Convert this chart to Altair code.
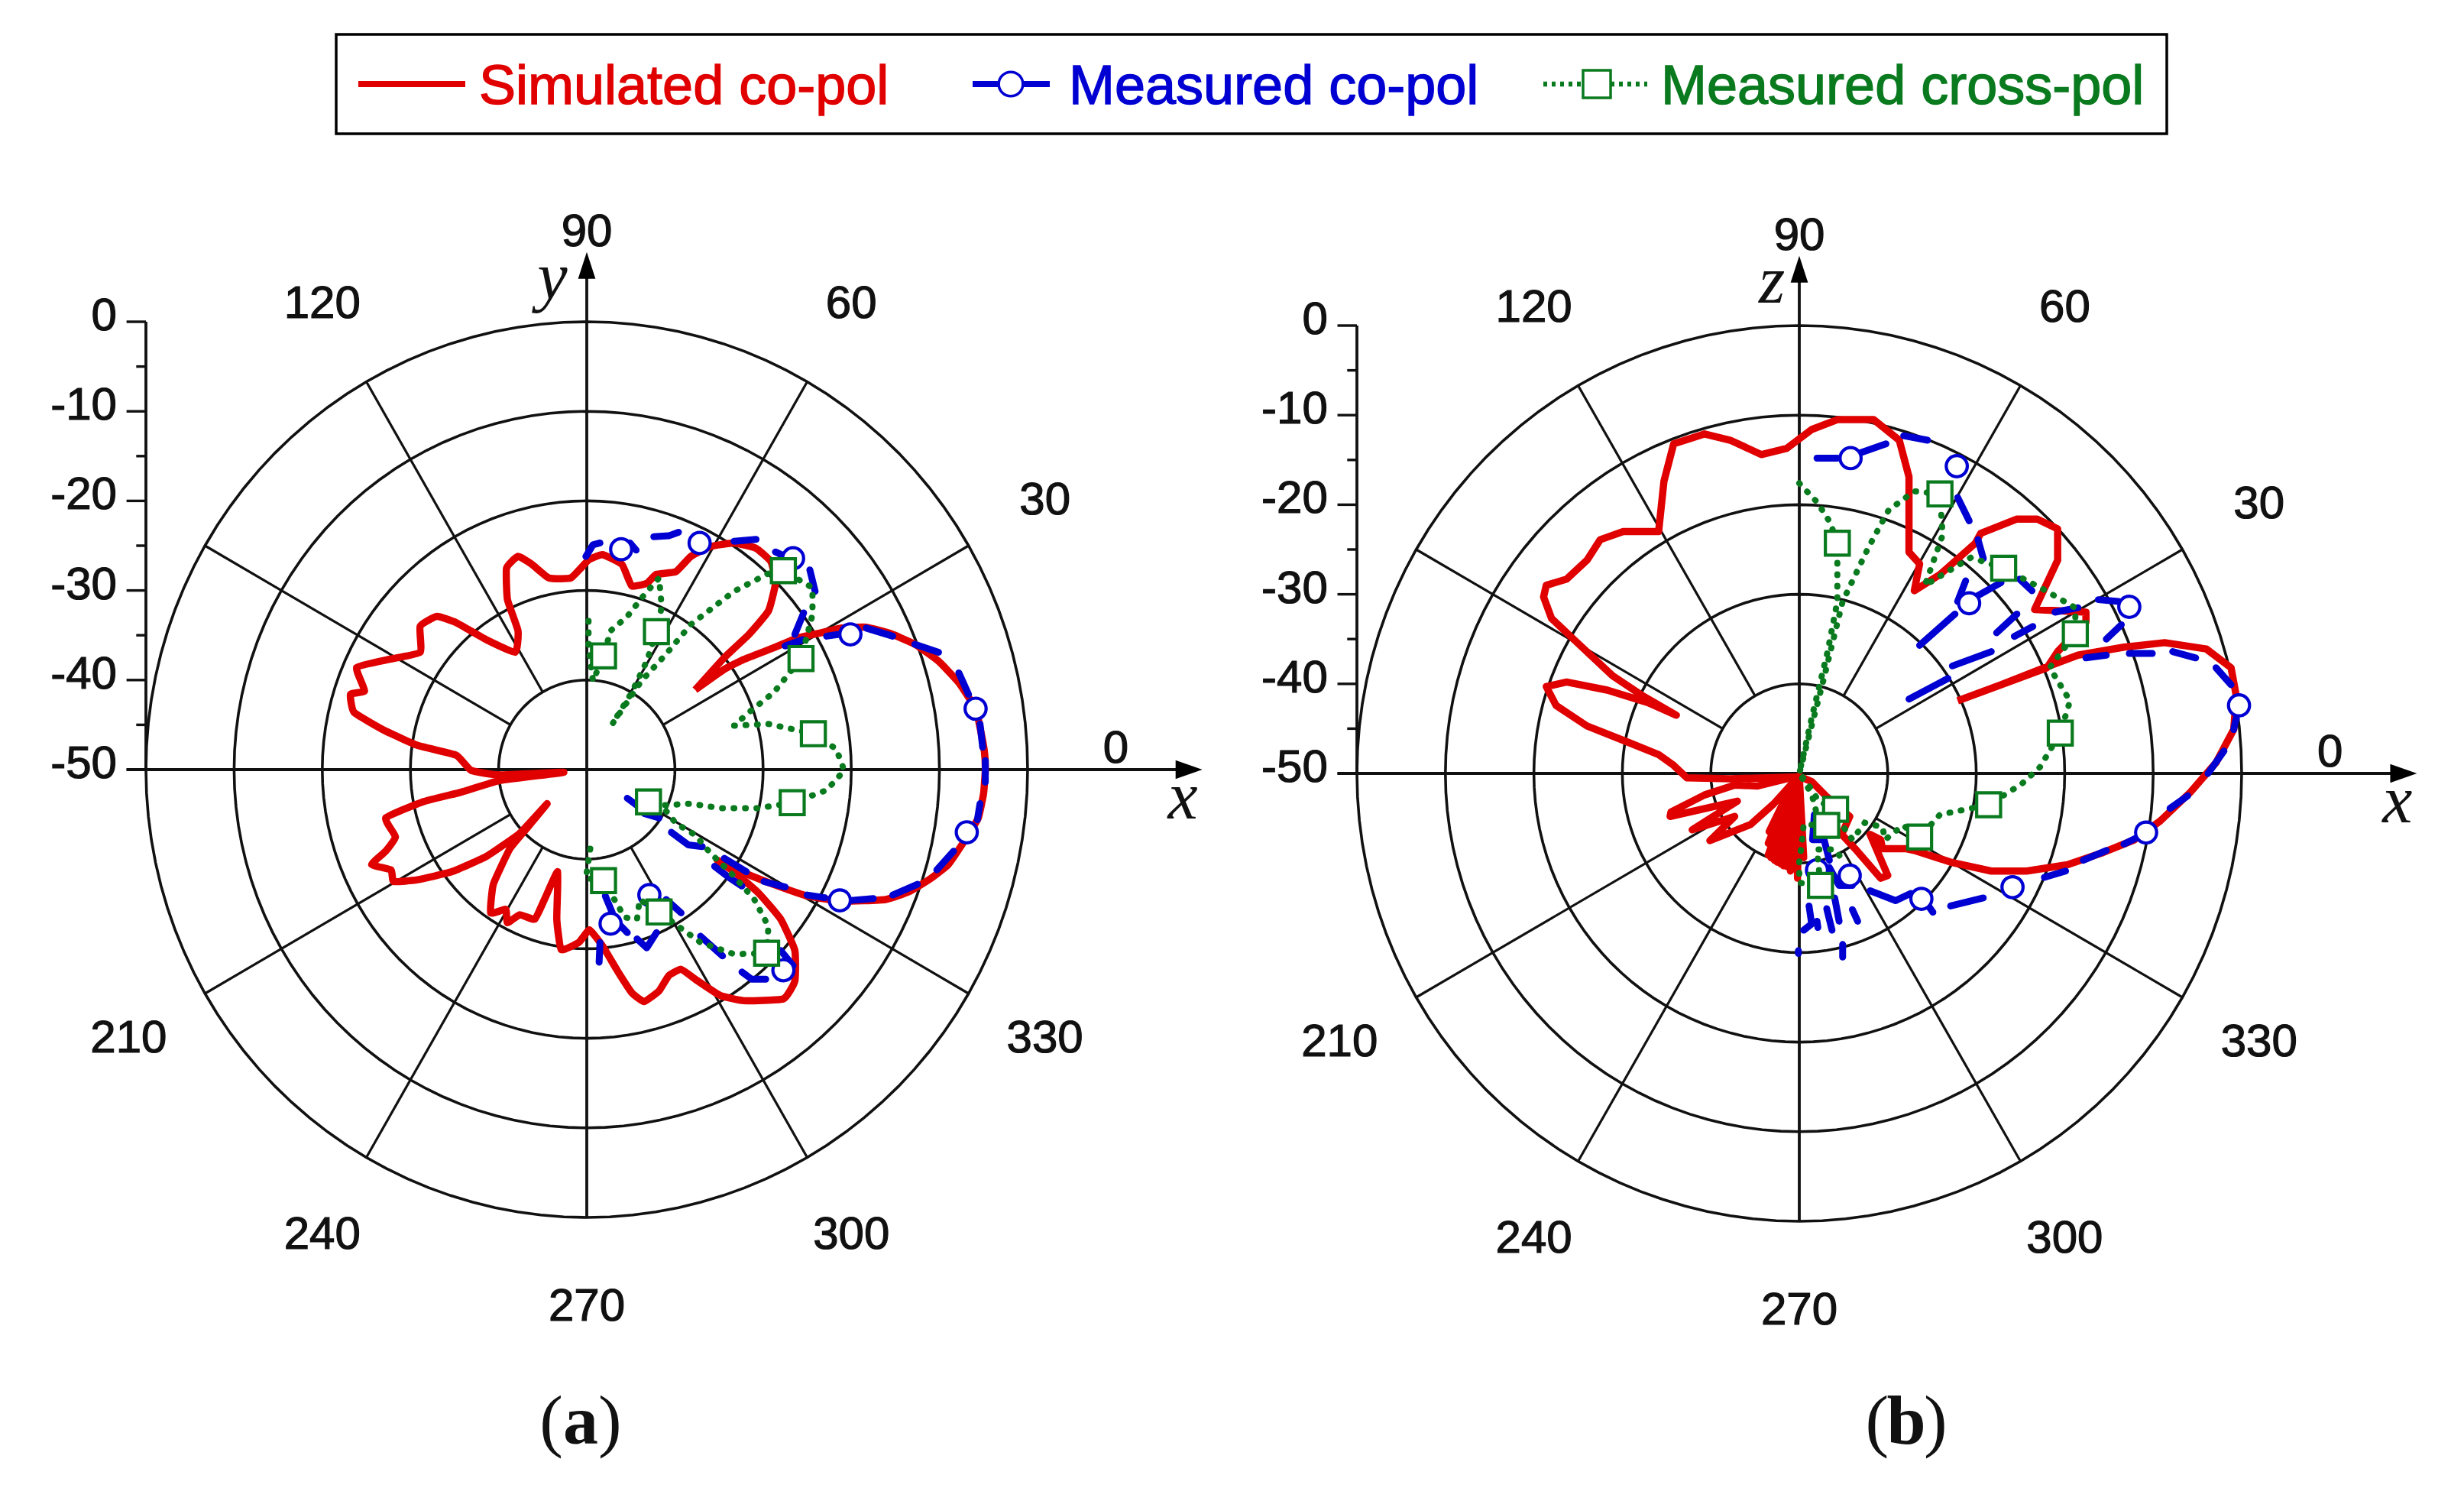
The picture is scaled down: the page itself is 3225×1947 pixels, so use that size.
import math
import altair as alt
import pandas as pd

# Radiation patterns. Each pair is (level + 50 dB) projected on the x and y axes.
SIM_A = [(12.3,8.9),(15.6,11.2),(17.8,12.3),(21.2,13.6),(23.9,14.7),(26.7,15.3),(28.9,15.8),(31.7,15.9),(34.4,15.2),(37.2,14.0),(39.9,12.1),(42.2,9.7),(44.1,6.8),(44.6,4.7),(45.1,2.0),(45.2,-0.1),(45.0,-2.7),(44.4,-5.4),(43.0,-7.7),(41.0,-10.6),(38.8,-12.3),(36.6,-13.6),(33.9,-14.5),(28.9,-14.7),(25.0,-14.1),(21.7,-13.0),(17.8,-11.5),(14.8,-10.1),(16.7,-11.4),(19.5,-13.8),(22.0,-16.7),(23.6,-20.2),(23.6,-23.6),(22.3,-25.6),(17.8,-25.8),(15.1,-25.2),(12.3,-23.4),(10.7,-22.3),(9.3,-23.0),(8.2,-24.7),(6.5,-25.9),(5.1,-24.9),(3.5,-22.5),(1.8,-19.7),(0.3,-17.9),(-0.9,-19.3),(-2.9,-20.1),(-3.4,-16.7),(-3.3,-11.4),(-4.8,-14.5),(-5.9,-16.7),(-7.6,-16.2),(-9.0,-17.1),(-9.2,-15.6),(-10.9,-16.0),(-10.6,-12.8),(-8.7,-8.8),(-6.5,-6.2),(-4.5,-3.8),(-7.6,-7.1),(-11.4,-9.7),(-15.3,-11.4),(-19.2,-12.3),(-21.9,-12.5),(-22.2,-11.2),(-24.4,-10.6),(-22.8,-9.1),(-21.7,-7.5),(-22.8,-5.4),(-18.6,-3.6),(-14.2,-2.5),(-9.8,-1.2),(-2.6,-0.3),(-9.8,-0.6),(-13.1,-0.1),(-14.8,1.6),(-19.2,2.7),(-23.0,4.4),(-26.4,6.4),(-26.8,8.4),(-25.2,8.8),(-26.1,11.4),(-22.5,12.3),(-18.9,13.1),(-18.9,16.0),(-17.0,17.1),(-14.8,16.4),(-11.4,14.5),(-8.1,13.1),(-7.8,15.5),(-9.0,19.0),(-9.1,22.5),(-7.8,23.8),(-6.2,22.9),(-4.3,21.4),(-1.8,21.4),(0.2,23.4),(1.8,24.0),(4.0,22.9),(5.1,20.5),(6.8,20.8),(7.9,21.8),(10.1,22.1),(11.8,23.8),(14.0,24.9),(16.7,25.3),(19.2,24.7),(20.9,23.2),(21.4,20.8),(20.6,17.7),(18.4,15.1),(15.6,12.5),(12.3,8.9)]

MEAS_A = [
[(-0.1,23.8),(0.7,25.1),(1.5,25.3)],[(4.9,25.3),(5.6,24.5)],[(7.6,26.0),(9.3,26.1),(10.4,26.5)],[(16.7,25.5),(19.2,25.7)],[(21.4,24.3),(22.5,23.8)],[(25.3,22.3),(25.9,19.9)],[(24.6,17.5),(23.6,15.1)],[(22.5,13.8),(24.5,14.5)],[(27.2,14.9),(28.6,15.1)],[(31.7,15.8),(34.7,14.9)],[(37.2,14.0),(39.9,13.1)],[(42.2,10.8),(43.3,8.4)],[(44.6,5.1),(44.9,2.5)],[(45.2,1.0),(45.2,-1.4)],[(44.6,-3.8),(44.3,-5.6)],[(41.6,-9.1),(39.7,-11.2)],[(37.5,-12.8),(34.7,-14.0)],[(32.5,-14.4),(30.0,-14.6)],[(27.0,-14.3),(25.0,-14.0)],[(22.5,-13.1),(20.1,-12.5)],[(17.6,-13.0),(16.2,-12.1),(14.5,-10.8)],[(15.6,-9.9),(18.1,-11.4)],[(13.1,-8.6),(11.5,-8.4),(9.6,-7.0)],[(4.6,-3.2),(5.7,-4.0)],[(6.5,-4.9),(8.2,-5.4)],[(9.0,-14.5),(10.7,-16.0)],[(2.1,-14.1),(2.9,-16.0)],[(3.5,-17.1),(4.6,-18.2)],[(5.7,-18.9),(6.8,-19.9),(7.9,-18.2)],[(1.5,-19.3),(1.4,-21.5)],[(12.9,-18.6),(15.4,-20.8)],[(17.6,-22.6),(18.7,-23.4),(20.3,-23.4)],[(22.0,-20.2),(23.4,-21.9)]]
MEAS_A_MARKS = [(3.9,24.6),(12.8,25.3),(23.4,23.6),(29.9,15.1),(44.1,6.8),(43.1,-7.0),(28.7,-14.6),(22.3,-22.4),(7.1,-14.0),(2.7,-17.2)]

CROSS_A = [(0.2,16.6),(0.2,13.8),(0.7,9.9),(1.9,12.7),(2.7,15.5),(4.6,17.1),(6.5,19.5),(8.2,21.4),(8.5,18.2),(7.9,15.4),(6.8,12.1),(5.1,8.6),(2.9,5.1),(6.2,9.9),(9.0,12.9),(11.8,16.2),(16.7,19.9),(20.6,21.9),(22.3,22.2),(25.6,20.3),(25.6,17.3),(24.3,12.4),(21.2,8.6),(18.4,6.4),(16.7,4.9),(20.6,5.1),(25.7,4.0),(28.3,2.3),(29.2,-0.1),(27.2,-2.3),(23.3,-3.7),(19.5,-4.3),(15.1,-4.3),(11.8,-3.8),(8.5,-4.0),(10.1,-6.0),(12.3,-7.3),(14.0,-9.3),(16.7,-11.9),(19.0,-14.5),(20.6,-17.5),(20.4,-20.5),(16.7,-20.6),(12.9,-19.3),(10.1,-17.3),(8.2,-15.9),(6.0,-14.5),(5.7,-16.7),(4.3,-16.5),(1.9,-12.4),(-0.1,-12.1),(0.4,-8.8)]
CROSS_A_MARKS = [(1.9,12.7),(7.9,15.4),(22.3,22.2),(24.3,12.4),(25.7,4.0),(23.3,-3.7),(7.0,-3.6),(1.9,-12.4),(8.2,-15.9),(20.4,-20.5)]

SIM_B = [(17.9,8.1),(22.8,9.9),(27.7,11.8),(31.5,13.2),(36.7,14.1),(41.3,14.6),(46.0,13.9),(48.8,11.8),(49.4,8.6),(49.1,4.9),(47.1,1.2),(44.2,-2.1),(40.8,-5.3),(37.9,-7.4),(34.4,-8.8),(30.3,-10.2),(25.7,-10.9),(21.7,-10.9),(17.1,-9.9),(13.0,-8.6),(12.0,-8.4),(9.4,-8.4),(9.2,-7.4),(8.0,-6.8),(10.0,-11.4),(9.2,-11.7),(6.3,-8.4),(4.8,-6.8),(5.7,-4.8),(3.1,-2.6),(1.4,-0.9),(-0.1,-0.3),(0.2,-5.7),(0.5,-9.4),(0.0,-0.4),(-0.2,-11.7),(-0.2,-0.4),(-0.6,-10.5),(-0.2,-0.4),(-1.0,-10.9),(-0.2,-0.4),(-1.4,-10.4),(-0.2,-0.4),(-1.8,-10.3),(-0.2,-0.4),(-2.1,-10.1),(-0.3,-0.4),(-2.5,-9.9),(-0.3,-0.4),(-2.8,-9.7),(-0.3,-0.4),(-3.2,-9.4),(-0.4,-0.5),(-3.5,-9.1),(-0.4,-0.5),(-3.5,-7.8),(-0.5,-0.6),(-3.4,-6.5),(-0.6,-0.9),(-2.9,-3.4),(-5.5,-5.7),(-10.1,-7.5),(-7.3,-4.8),(-12.1,-6.3),(-7.0,-3.1),(-14.6,-4.8),(-14.5,-4.3),(-10.7,-2.4),(-7.3,-1.3),(-4.7,-1.4),(-0.6,-0.4),(-7.8,-0.6),(-12.7,-0.5),(-14.2,0.9),(-15.9,2.1),(-19.4,3.5),(-24.0,5.3),(-27.5,7.6),(-28.6,9.7),(-26.3,10.2),(-21.7,9.3),(-17.1,7.9),(-13.9,6.5),(-17.6,8.6),(-21.1,10.9),(-25.1,14.6),(-28.0,17.3),(-28.9,19.7),(-28.6,21.0),(-26.3,21.7),(-24.0,23.8),(-22.5,26.1),(-19.9,27.0),(-15.9,27.0),(-15.3,32.6),(-14.2,36.8),(-10.7,37.9),(-7.8,37.2),(-4.3,35.6),(-1.4,36.3),(1.4,38.4),(4.3,39.5),(8.4,39.5),(11.3,37.2),(12.4,33.1),(12.4,24.7),(13.6,23.4),(13.0,20.4),(15.9,22.2),(19.9,25.7),(20.5,26.8),(24.6,28.4),(26.9,28.4),(29.2,27.3),(29.2,23.8),(26.6,18.3),(32.4,18.0),(32.4,16.9),(29.2,13.6),(28.0,11.8),(17.9,8.1)]

MEAS_B = [
[(2.0,35.2),(4.3,35.2)],[(6.9,35.8),(9.8,36.8)],[(11.8,37.7),(14.5,37.2)],[(17.9,30.8),(19.2,28.2)],[(20.2,26.1),(20.8,24.0)],[(18.8,21.5),(17.9,19.2)],[(22.8,21.3),(19.9,19.7)],[(24.9,21.7),(26.3,20.4)],[(28.9,18.0),(31.5,18.5)],[(33.8,19.4),(36.1,19.2)],[(36.4,16.6),(34.7,15.0)],[(24.6,17.8),(22.3,15.7)],[(26.4,16.4),(24.3,15.3)],[(17.6,17.8),(13.6,14.3)],[(21.7,13.6),(17.3,12.0)],[(16.8,10.6),(12.4,8.3)],[(32.4,12.9),(34.7,13.2)],[(37.3,13.4),(39.9,13.4)],[(42.2,13.6),(44.8,12.9)],[(47.1,11.8),(48.8,9.9)],[(49.4,6.2),(49.1,4.9)],[(48.0,2.5),(46.2,0.0)],[(43.9,-2.5),(41.9,-3.9)],[(38.7,-6.9),(36.7,-7.9)],[(34.7,-8.6),(32.1,-9.7)],[(30.1,-10.9),(27.7,-11.6)],[(20.8,-13.9),(17.1,-14.8)],[(8.0,-13.1),(10.9,-14.2),(12.6,-13.4)],[(14.6,-14.8),(15.1,-15.5)],[(3.4,-10.5),(4.5,-12.5),(6.0,-12.5)],[(1.7,-4.6),(1.5,-7.4),(2.8,-7.4),(3.4,-9.7)],[(1.1,-14.8),(1.4,-16.8),(0.5,-17.5)],[(2.0,-16.5),(2.1,-17.2)],[(3.1,-15.1),(3.7,-17.5)],[(4.0,-13.9),(4.5,-16.5)],[(6.0,-15.2),(6.6,-16.5)],[(4.9,-19.1),(4.9,-20.5)],[(-0.1,-19.8),(-0.1,-20.1)]]
MEAS_B_MARKS = [(5.8,35.2),(17.8,34.3),(19.2,19.0),(37.3,18.6),(49.7,7.6),(39.2,-6.6),(24.1,-12.7),(13.8,-14.0),(5.7,-11.4),(2.0,-10.8)]

CROSS_B = [(0.0,32.4),(2.0,30.3),(3.5,28.0),(4.3,25.7),(4.3,19.2),(3.2,13.6),(1.4,6.2),(0.0,0.0),(2.6,9.9),(4.9,19.2),(7.8,25.2),(10.1,29.4),(13.0,31.5),(15.9,31.2),(16.2,26.6),(14.2,21.0),(19.4,24.1),(23.1,22.9),(27.5,20.6),(31.2,18.5),(31.2,15.6),(28.3,11.8),(30.6,8.1),(29.5,4.5),(27.2,0.7),(25.1,-1.2),(21.4,-3.5),(15.9,-4.6),(13.6,-7.1),(11.7,-5.8),(9.7,-7.4),(9.4,-6.0),(7.4,-5.5),(6.0,-7.4),(4.8,-5.7),(4.1,-4.0),(2.2,-3.1),(0.8,-0.9),(0.0,0.0),(1.4,-2.3),(2.0,-4.6),(3.1,-5.8),(0.5,-5.7),(0.2,-8.5),(0.0,-9.4),(0.0,-12.2),(2.4,-12.5),(2.0,-8.5),(4.0,-8.5),(4.8,-9.5)]
CROSS_B_MARKS = [(4.3,25.7),(15.9,31.2),(23.1,22.9),(31.2,15.6),(29.5,4.5),(21.4,-3.5),(13.6,-7.1),(4.1,-4.0),(3.1,-5.8),(2.4,-12.5)]

LEGEND_LABELS = ["Simulated co-pol", "Measured co-pol", "Measured cross-pol"]
ANGLE_LABELS = [0, 30, 60, 90, 120, 210, 240, 270, 300, 330]
RADIAL_TICKS = [0, -5, -10, -15, -20, -25, -30, -35, -40, -45, -50]
RADIAL_LABELS = [0, -10, -20, -30, -40, -50]
RINGS = [10, 20, 30, 40, 50]
SPOKES = [30, 60, 120, 150, 210, 240, 300, 330]

RED, BLUE, GREEN, INK = "#E00000", "#0000D2", "#0A7A1E", "#111111"
SANS, SERIF = "Liberation Sans", "Liberation Serif"

TOP_H, PANEL_H = 190, 1741


def pts(pairs, seg=0):
    return pd.DataFrame([{"x": a, "y": b, "seg": seg, "i": i} for i, (a, b) in enumerate(pairs)])


def segs(groups):
    return pd.concat([pts(g, k) for k, g in enumerate(groups)], ignore_index=True)


def panel(left, right, cx, cy, sx, sim, meas, meas_marks, cross, cross_marks, ylab, tag, tag_x, smooth):
    sy = 11.72
    W = right - left
    dx = alt.Scale(domain=[(left - cx) / sx, (right - cx) / sx], nice=False, zero=False)
    dy = alt.Scale(domain=[(cy - 198 - PANEL_H) / sy, (cy - 198) / sy], nice=False, zero=False)
    X = alt.X("x:Q", scale=dx, axis=None)
    Y = alt.Y("y:Q", scale=dy, axis=None)

    def line(df, **kw):
        return alt.Chart(df).mark_line(**kw).encode(X, Y, detail="seg:N", order="i:Q")

    def rules(rows, width):
        d = pd.DataFrame(rows, columns=["x", "x1", "y", "y1"])
        return alt.Chart(d).mark_rule(color=INK, strokeWidth=width).encode(X, Y, x2="x1:Q", y2="y1:Q")

    def text(rows, size, font=SANS, **kw):
        d = pd.DataFrame(rows, columns=["x", "y", "t"])
        return alt.Chart(d).mark_text(fontSize=size, font=font, color="#111", **kw).encode(X, Y, text="t:N")

    ring_rows = []
    for k, r in enumerate(RINGS):
        for a in range(0, 361, 3):
            ring_rows.append({"x": r * math.cos(math.radians(a)), "y": r * math.sin(math.radians(a)), "seg": k, "i": a})
    rings = line(pd.DataFrame(ring_rows), color=INK, strokeWidth=3.6)

    spoke = rules([(10 * math.cos(math.radians(a)), 50 * math.cos(math.radians(a)),
                    10 * math.sin(math.radians(a)), 50 * math.sin(math.radians(a))) for a in SPOKES], 3.2)
    axes = rules([(-52.2, 68.5, 0, 0), (0, 0, -50, 56.5), (-50, -50, 0, 50)], 3.8)
    ticks = rules([(-50 - (2.2 if t % 10 == 0 else 1.1), -50, t + 50, t + 50) for t in RADIAL_TICKS], 3.4)

    arrow_r = alt.Chart(pd.DataFrame({"x": [68.3], "y": [0]})).mark_point(
        shape="M-1,-0.7L1,0L-1,0.7Z", size=1225, filled=True, color="black", opacity=1).encode(X, Y)
    arrow_u = alt.Chart(pd.DataFrame({"x": [0], "y": [56.3]})).mark_point(
        shape="M-0.65,1L0,-1L0.65,1Z", size=1225, filled=True, color="black", opacity=1).encode(X, Y)

    ang_rows = []
    for a in ANGLE_LABELS:
        ang_rows.append((60 * math.cos(math.radians(a)), 60 * math.sin(math.radians(a)) + (2.3 if a == 0 else 0), str(a)))
    ang = text(ang_rows, 60, align="center", baseline="middle", stroke="#111", strokeWidth=1.2)
    rad = text([(-53.3, v + 50, str(v)) for v in RADIAL_LABELS], 60, align="right", baseline="middle",
               dy=-7, stroke="#111", strokeWidth=1.2)

    xl = text([(67.6, -5.5, "x")], 88, SERIF, fontStyle="italic", align="center", baseline="alphabetic")
    yl = text([(ylab[1], 52.6, ylab[0])], 88, SERIF, fontStyle="italic", align="center", baseline="alphabetic")

    ty = (cy - 1889) / sy
    tag_b = text([(tag_x, ty, tag)], 92, SERIF, fontWeight="bold", align="center", baseline="alphabetic")
    tag_l = text([(tag_x, ty, "(")], 92, SERIF, align="right", dx=-23, baseline="alphabetic")
    tag_r = text([(tag_x, ty, ")")], 92, SERIF, align="left", dx=23, baseline="alphabetic")

    red_kw = {"interpolate": "cardinal", "tension": 0.6} if smooth else {}
    red = line(pts(sim), color=RED, strokeWidth=9.5, strokeJoin="round", **red_kw)
    blue = line(segs(meas), color=BLUE, strokeWidth=9, strokeCap="round", strokeJoin="round")
    blue_m = alt.Chart(pts(meas_marks)).mark_point(shape="circle", size=760, fill="white", filled=False,
                                                   stroke=BLUE, strokeWidth=4.2, fillOpacity=1, opacity=1).encode(X, Y)
    green = line(pts(cross), color=GREEN, strokeWidth=8, strokeCap="round", strokeDash=[1, 14])
    green_m = alt.Chart(pts(cross_marks)).mark_point(shape="square", size=980, fill="white", filled=False,
                                                     stroke=GREEN, strokeWidth=4.2, fillOpacity=1, opacity=1).encode(X, Y)

    return alt.layer(rings, spoke, axes, ticks, arrow_r, arrow_u, ang, rad, xl, yl, tag_l, tag_b, tag_r,
                     red, blue, blue_m, green, green_m).properties(width=W, height=PANEL_H)


def legend():
    ox, oy = 8, 8
    box = alt.Chart(pd.DataFrame({"k": [0]})).mark_rect(fill="white", stroke="black", strokeWidth=3.5).encode(
        x=alt.value(440 - ox), x2=alt.value(2836 - ox), y=alt.value(45 - oy), y2=alt.value(175 - oy))

    def seg(a, b, col, **kw):
        return alt.Chart(pd.DataFrame({"k": [0]})).mark_rule(color=col, **kw).encode(
            x=alt.value(a - ox), x2=alt.value(b - ox), y=alt.value(110 - oy))

    def sym(x, col, shape, size):
        return alt.Chart(pd.DataFrame({"k": [0]})).mark_point(shape=shape, size=size, fill="white", filled=False,
                                                              stroke=col, strokeWidth=3.5, fillOpacity=1, opacity=1).encode(
            x=alt.value(x - ox), y=alt.value(110 - oy))

    def lab(x, col, t):
        return alt.Chart(pd.DataFrame({"t": [t]})).mark_text(fontSize=72, font=SANS, color=col, align="left",
                                                            baseline="alphabetic", stroke=col, strokeWidth=1.4).encode(
            x=alt.value(x - ox), y=alt.value(136 - oy), text="t:N")

    return alt.layer(
        box,
        seg(469, 609, RED, strokeWidth=8), lab(627, RED, LEGEND_LABELS[0]),
        seg(1273, 1374, BLUE, strokeWidth=8), sym(1323, BLUE, "circle", 1000), lab(1399, BLUE, LEGEND_LABELS[1]),
        seg(2020, 2156, GREEN, strokeWidth=6.5, strokeDash=[5, 6]), sym(2090, GREEN, "square", 1300), lab(2174, GREEN, LEGEND_LABELS[2]),
    ).properties(width=3209, height=TOP_H)


a = panel(8, 1617, 768, 1007, 11.54, SIM_A, MEAS_A, MEAS_A_MARKS, CROSS_A, CROSS_A_MARKS, ("y", -3.9), "a", -0.7, True)
b = panel(1617, 3217, 2355, 1012, 11.58, SIM_B, MEAS_B, MEAS_B_MARKS, CROSS_B, CROSS_B_MARKS, ("z", -3.1), "b", 12.1, False)

chart = alt.vconcat(legend(), alt.hconcat(a, b, spacing=0), spacing=0).properties(
    padding=0, background="white"
).configure_view(strokeOpacity=0)

chart.save("out.html", embed_options={"renderer": "svg", "actions": False})
